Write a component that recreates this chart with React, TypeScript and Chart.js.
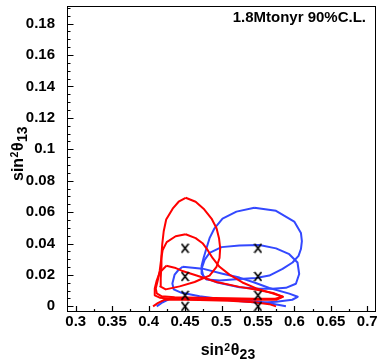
import React, { useEffect, useRef } from 'react';
import { Chart, registerables } from 'chart.js';

Chart.register(...registerables);

const FONT = '"Liberation Sans", Arial, Helvetica, sans-serif';

const X_MIN = 0.288;
const X_MAX = 0.712;
const Y_MIN = -0.0036;
const Y_MAX = 0.1912;

const X_TICKS = [0.3, 0.35, 0.4, 0.45, 0.5, 0.55, 0.6, 0.65, 0.7];
const Y_TICKS = [0, 0.02, 0.04, 0.06, 0.08, 0.1, 0.12, 0.14, 0.16, 0.18];

const ANNOTATION = '1.8Mtonyr 90%C.L.';

// true points (markers)
const markerX = [0.45, 0.45, 0.45, 0.45, 0.55, 0.55, 0.55, 0.55];
const markerY = [0.037, 0.019, 0.007, 0, 0.037, 0.019, 0.007, 0];

// red contours (true sin^2 theta23 = 0.45)
const red1: [number, number][] = [
  [0.4508, 0.0691], [0.4645, 0.0666], [0.4754, 0.0622], [0.4863, 0.0559], [0.4932, 0.0497],
  [0.4966, 0.0434], [0.4982, 0.0371], [0.4973, 0.0308], [0.4932, 0.0252], [0.4836, 0.0196],
  [0.4740, 0.0177], [0.4631, 0.0155], [0.4426, 0.0127], [0.4234, 0.0108], [0.4159, 0.0127],
  [0.4166, 0.0177], [0.4173, 0.0246], [0.4176, 0.0321], [0.4187, 0.0396], [0.4207, 0.0478],
  [0.4241, 0.0553], [0.4330, 0.0622], [0.4412, 0.0666], [0.4508, 0.0691],
];
const red2: [number, number][] = [
  [0.4508, 0.0459], [0.4645, 0.0434], [0.4740, 0.0402], [0.4809, 0.0359], [0.4877, 0.0308],
  [0.4973, 0.0252], [0.5109, 0.0202], [0.5287, 0.0152], [0.5478, 0.0114], [0.5656, 0.0089],
  [0.5841, 0.0061], [0.5738, 0.0048], [0.5451, 0.0048], [0.5109, 0.0051], [0.4699, 0.0055],
  [0.4357, 0.0058], [0.4180, 0.0064], [0.4111, 0.0083], [0.4098, 0.0114], [0.4125, 0.0164],
  [0.4152, 0.0227], [0.4173, 0.0302], [0.4193, 0.0359], [0.4248, 0.0409], [0.4371, 0.0446],
  [0.4508, 0.0459],
];
const red3: [number, number][] = [
  [0.4244, 0.0258], [0.4357, 0.0246], [0.4453, 0.0227], [0.4658, 0.0196], [0.4932, 0.0155],
  [0.5246, 0.0124], [0.5520, 0.0102], [0.5725, 0.0083], [0.5841, 0.0061], [0.5752, 0.0042],
  [0.5478, 0.0042], [0.5109, 0.0042], [0.4699, 0.0045], [0.4316, 0.0048], [0.4152, 0.0055],
  [0.4084, 0.0070], [0.4084, 0.0114], [0.4111, 0.0164], [0.4152, 0.0215], [0.4244, 0.0258],
];
const red4: [number, number][] = [
  [0.4061, 0], [0.4125, 0.0020], [0.4221, 0.0043], [0.4699, 0.0040], [0.5109, 0.0036],
  [0.5451, 0.0026], [0.5656, 0.0014], [0.5748, 0],
];

// blue contours (true sin^2 theta23 = 0.55)
const blue1: [number, number][] = [
  [0.5451, 0.0628], [0.5748, 0.0608], [0.5998, 0.0540], [0.6090, 0.0467], [0.6103, 0.0415],
  [0.6090, 0.0365], [0.6057, 0.0321], [0.5975, 0.0279], [0.5838, 0.0238], [0.5656, 0.0196],
  [0.5474, 0.0181], [0.5246, 0.0174], [0.4973, 0.0164], [0.4795, 0.0171], [0.4727, 0.0208],
  [0.4727, 0.0258], [0.4754, 0.0308], [0.4795, 0.0371], [0.4836, 0.0434], [0.4904, 0.0497],
  [0.5014, 0.0559], [0.5205, 0.0603], [0.5451, 0.0628],
];
const blue2: [number, number][] = [
  [0.5520, 0.0390], [0.5748, 0.0369], [0.5930, 0.0332], [0.6043, 0.0279], [0.6066, 0.0206],
  [0.6021, 0.0144], [0.5884, 0.0118], [0.5701, 0.0112], [0.5520, 0.0112], [0.5246, 0.0122],
  [0.4928, 0.0154], [0.4754, 0.0183], [0.4727, 0.0240], [0.4768, 0.0296], [0.4836, 0.0340],
  [0.5000, 0.0377], [0.5246, 0.0387], [0.5520, 0.0390],
];
const blue3: [number, number][] = [
  [0.4467, 0.0252], [0.4740, 0.0240], [0.5014, 0.0208], [0.5246, 0.0183], [0.5451, 0.0152],
  [0.5656, 0.0117], [0.5930, 0.0081], [0.6046, 0.0061], [0.5971, 0.0042], [0.5752, 0.0029],
  [0.5520, 0.0023], [0.5109, 0.0039], [0.4699, 0.0064], [0.4453, 0.0086], [0.4344, 0.0108],
  [0.4326, 0.0145], [0.4357, 0.0202], [0.4412, 0.0233], [0.4467, 0.0252],
];
const blue4: [number, number][] = [
  [0.4111, 0], [0.4193, 0.0026], [0.4289, 0.0048], [0.4836, 0.0045], [0.5246, 0.0039],
  [0.5520, 0.0029], [0.5656, 0.0020], [0.5793, 0.0008], [0.5884, 0],
];

const RED = '#ff0000';
const BLUE = '#3348ff';

const fmt = (v: number | string) => String(Number(Number(v).toFixed(3)));

function makeMarker(): HTMLCanvasElement {
  const c = document.createElement('canvas');
  c.width = 9;
  c.height = 11;
  const g = c.getContext('2d')!;
  g.strokeStyle = '#000';
  g.lineWidth = 1.7;
  g.beginPath();
  g.moveTo(1, 1);
  g.lineTo(8, 10);
  g.moveTo(8, 1);
  g.lineTo(1, 10);
  g.stroke();
  return c;
}

function drawTitle(ctx: CanvasRenderingContext2D, sub: string) {
  ctx.textAlign = 'left';
  ctx.textBaseline = 'alphabetic';
  ctx.fillStyle = '#000';
  let cx = 0;
  ctx.font = `bold 16px ${FONT}`;
  ctx.fillText('sin', cx, 0);
  cx += ctx.measureText('sin').width + 0.5;
  ctx.font = `bold 10.5px ${FONT}`;
  ctx.fillText('2', cx, -4.5);
  cx += ctx.measureText('2').width + 0.5;
  ctx.font = `bold 16px ${FONT}`;
  ctx.fillText('\u03b8', cx, 0);
  cx += ctx.measureText('\u03b8').width + 0.3;
  ctx.font = `bold 14px ${FONT}`;
  ctx.fillText(sub, cx, 4.3);
}

const decorPlugin = {
  id: 'rootDecor',
  afterDraw(chart: any) {
    const ctx: CanvasRenderingContext2D = chart.ctx;
    const { left, right, top, bottom } = chart.chartArea;
    const xs = chart.scales.x;
    const ys = chart.scales.y;
    ctx.save();
    ctx.strokeStyle = '#000';
    ctx.lineWidth = 1;
    ctx.strokeRect(left + 0.5, top + 0.5, right - left - 1, bottom - top - 1);
    ctx.lineWidth = 1.2;
    ctx.beginPath();
    // y ticks (inside)
    for (let i = 1; i * 0.005 < Y_MAX; i++) {
      const v = i * 0.005;
      const major = i % 4 === 0;
      const py = Math.round(ys.getPixelForValue(v)) + 0.5;
      ctx.moveTo(left, py);
      ctx.lineTo(left + (major ? 6.5 : 3.5), py);
    }
    Y_TICKS.forEach((v) => {
      const py = Math.round(ys.getPixelForValue(v)) + 0.5;
      ctx.moveTo(left, py);
      ctx.lineTo(left + 6.5, py);
    });
    // x ticks (inside)
    for (let i = 0; i < X_TICKS.length; i++) {
      const px = Math.round(xs.getPixelForValue(X_TICKS[i])) + 0.5;
      ctx.moveTo(px, bottom);
      ctx.lineTo(px, bottom - 6);
      if (i < X_TICKS.length - 1) {
        const m = (X_TICKS[i] + X_TICKS[i + 1]) / 2;
        const pm = Math.round(xs.getPixelForValue(m)) + 0.5;
        ctx.moveTo(pm, bottom);
        ctx.lineTo(pm, bottom - 3);
      }
    }
    ctx.stroke();

    // annotation
    ctx.fillStyle = '#000';
    ctx.font = `bold 15px ${FONT}`;
    ctx.textAlign = 'right';
    ctx.textBaseline = 'alphabetic';
    ctx.fillText(ANNOTATION, 366, 21.5);

    // x title
    ctx.save();
    ctx.translate(200.7, 355);
    drawTitle(ctx, '23');
    ctx.restore();
    // y title
    ctx.save();
    ctx.translate(22.7, 181);
    ctx.rotate(-Math.PI / 2);
    drawTitle(ctx, '13');
    ctx.restore();
    ctx.restore();
  },
};

const toPts = (arr: [number, number][]) => arr.map(([x, y]) => ({ x, y }));

export default function App() {
  const ref = useRef<HTMLCanvasElement | null>(null);
  useEffect(() => {
    if (!ref.current) return;
    const marker = makeMarker();
    const line = (data: [number, number][], color: string) => ({
      data: toPts(data),
      showLine: true,
      borderColor: color,
      backgroundColor: color,
      borderWidth: 2,
      pointRadius: 0,
      fill: false,
      tension: 0,
      borderJoinStyle: 'round' as const,
    });
    const chart = new Chart(ref.current, {
      type: 'scatter',
      data: {
        datasets: [
          {
            data: markerX.map((x, i) => ({ x, y: markerY[i] })),
            pointStyle: marker as any,
            pointRadius: 5,
            showLine: false,
          } as any,
          line(red1, RED),
          line(red2, RED),
          line(red3, RED),
          line(red4, RED),
          line(blue1, BLUE),
          line(blue2, BLUE),
          line(blue3, BLUE),
          line(blue4, BLUE),
        ],
      },
      options: {
        animation: false,
        responsive: false,
        devicePixelRatio: 1,
        events: [],
        layout: { padding: { left: 0, top: 1, right: 5, bottom: 0 } },
        plugins: {
          legend: { display: false },
          tooltip: { enabled: false },
        },
        scales: {
          x: {
            type: 'linear',
            min: X_MIN,
            max: X_MAX,
            grid: { display: false, drawTicks: false },
            border: { display: false },
            ticks: {
              font: { family: FONT, size: 15, weight: 'bold' },
              color: '#000',
              padding: 1,
              maxRotation: 0,
              autoSkip: false,
              callback: (v: any) => fmt(v),
            },
            afterBuildTicks: (s: any) => {
              s.ticks = X_TICKS.map((value) => ({ value }));
            },
            afterFit: (s: any) => {
              s.height = 51;
              s.paddingLeft = 0;
              s.paddingRight = 0;
            },
          },
          y: {
            type: 'linear',
            min: Y_MIN,
            max: Y_MAX,
            grid: { display: false, drawTicks: false },
            border: { display: false },
            ticks: {
              font: { family: FONT, size: 15, weight: 'bold' },
              color: '#000',
              padding: 12,
              autoSkip: false,
              callback: (v: any) => fmt(v),
            },
            afterBuildTicks: (s: any) => {
              s.ticks = Y_TICKS.map((value) => ({ value }));
            },
            afterFit: (s: any) => {
              s.width = 67;
              s.paddingTop = 0;
              s.paddingBottom = 0;
            },
          },
        },
      } as any,
      plugins: [decorPlugin],
    });
    return () => chart.destroy();
  }, []);
  return (
    <div style={{ position: 'fixed', left: 0, top: 0, width: 382, height: 363, background: '#fff' }}>
      <canvas ref={ref} width={382} height={363} style={{ display: 'block' }} />
    </div>
  );
}
